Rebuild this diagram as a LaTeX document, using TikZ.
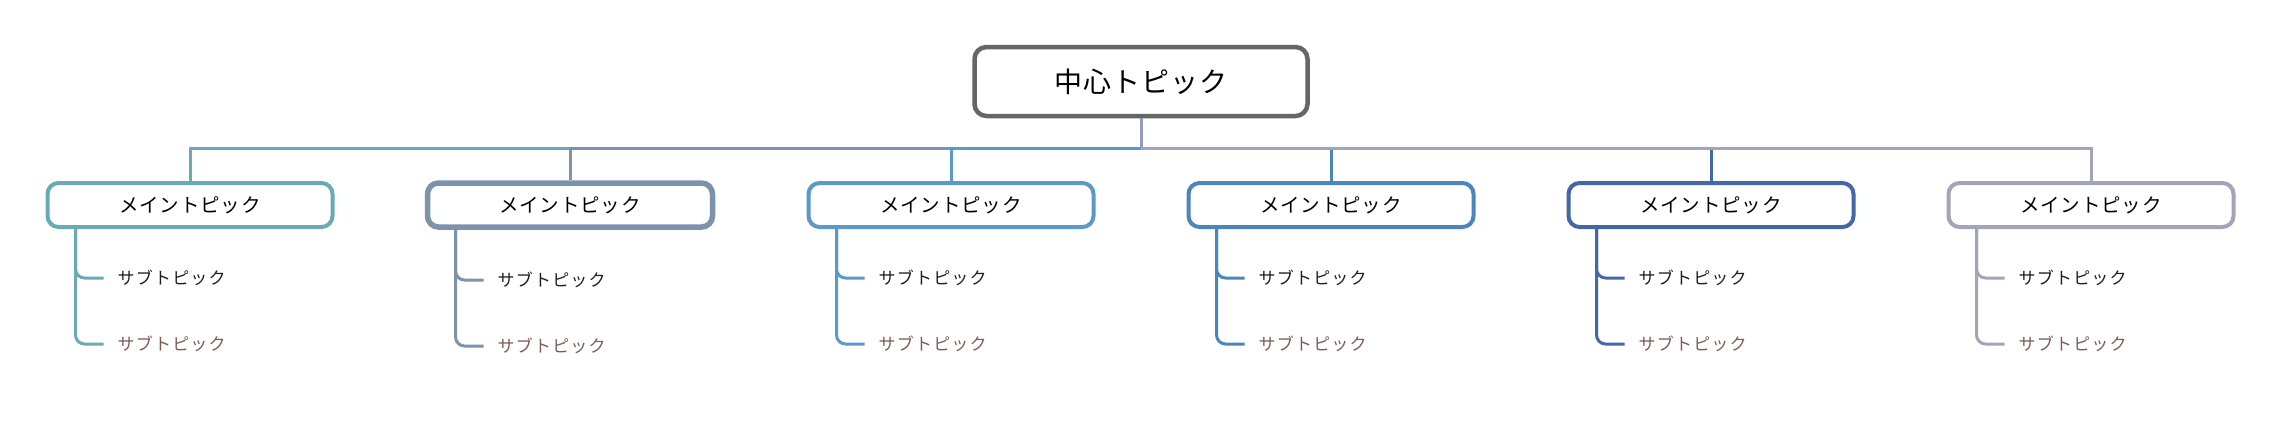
\documentclass[tikz,border=0pt]{standalone}
\usepackage{fontspec}
\newfontfamily\jp{Noto Sans CJK JP}[LetterSpace=4]
\newfontfamily\jpsub{Noto Sans CJK JP}[LetterSpace=7]
\usetikzlibrary{calc}
\definecolor{cA}{HTML}{6AAAB5}
\definecolor{cB}{HTML}{7D93AB}
\definecolor{cC}{HTML}{5B9AC8}
\definecolor{cD}{HTML}{4A85C0}
\definecolor{cE}{HTML}{4467A6}
\definecolor{cF}{HTML}{A2A5BA}
\definecolor{cMid}{HTML}{939CBD}
\definecolor{centerline}{HTML}{666666}
\definecolor{subdark}{HTML}{1E1E1E}
\definecolor{subbrown}{HTML}{7B5B57}
\tikzset{
  centerbox/.style={draw=centerline, line width=4.5pt, fill=white, rounded corners=12pt,
    minimum width=333pt, minimum height=69pt, inner sep=0pt,
    font=\jp\fontsize{28}{32}\selectfont},
  mainbox/.style={fill=white, rounded corners=11pt, minimum width=285pt, minimum height=44pt,
    inner sep=0pt, font=\jp\fontsize{19.5}{23}\selectfont},
  subtext/.style={anchor=west, inner sep=0pt, font=\jpsub\fontsize{17}{20}\selectfont},
  conn/.style={draw=#1, line width=3pt},
}
\begin{document}
\begin{tikzpicture}[x=1pt,y=-1pt]
\useasboundingbox (0,0) rectangle (2283,424);
\node[centerbox] (c) at (1141,81.5) {中心トピック};
\coordinate (bus) at (1141,148);
\foreach \i/\x/\col/\lw/\ya/\yb in {1/190/cA/4/278/344, 2/570/cB/5.5/280/346, 3/951/cC/4/278/344,
    4/1331/cD/4/278/344, 5/1711/cE/4/278/344, 6/2091/cF/4/278/344}{
  \node[mainbox, draw=\col, line width=\lw pt] (m\i) at (\x,205) {メイントピック};
  \draw[conn=\col] (bus) -| (m\i.north);
  \node[subtext, text=subdark] (sa\i) at (\x-72.5,\ya) {サブトピック};
  \node[subtext, text=subbrown] (sb\i) at (\x-72.5,\yb) {サブトピック};
  \coordinate (v\i) at ([xshift=-114.5pt]m\i.south);
  \draw[conn=\col, rounded corners=9pt] (v\i) |- ([xshift=-14pt]sa\i.west);
  \draw[conn=\col, rounded corners=9pt] (v\i) |- ([xshift=-14pt]sb\i.west);
}
\draw[conn=cMid] (c.south) -- (bus);
\end{tikzpicture}
\end{document}
